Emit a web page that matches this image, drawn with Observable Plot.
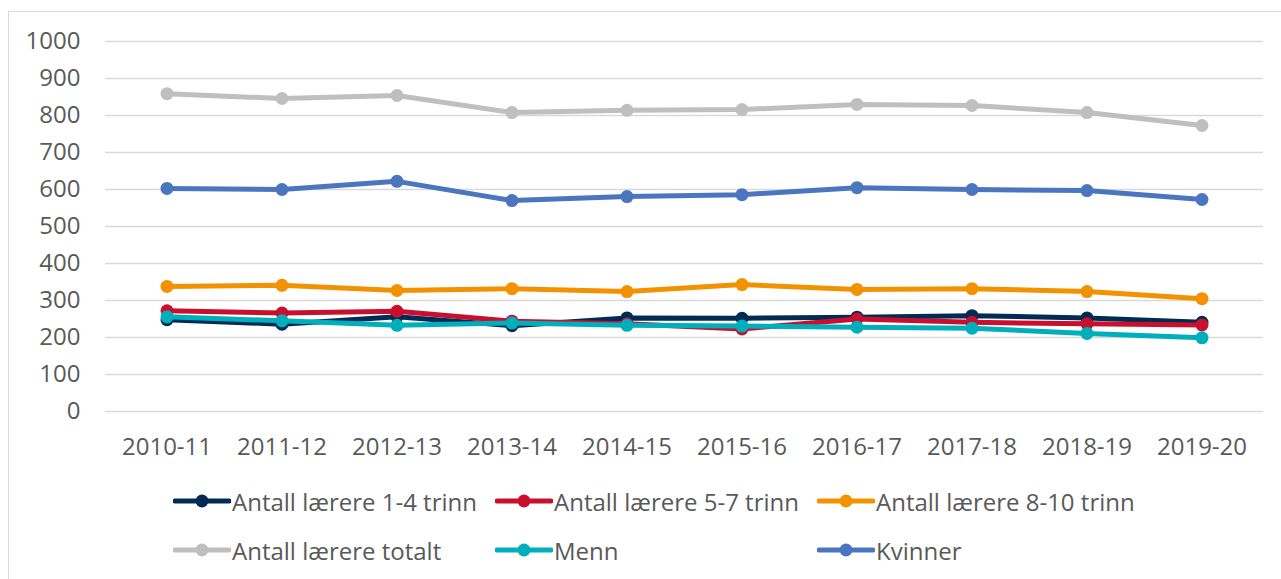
<!DOCTYPE html>
<html><head><meta charset="utf-8">
<script src="https://cdn.jsdelivr.net/npm/d3@7"></script>
<script src="https://cdn.jsdelivr.net/npm/@observablehq/plot@0.6"></script>
<style>
body{margin:0;background:#fff;font-family:"Open Sans",sans-serif;}
#wrap{position:relative;width:1281px;height:579px;overflow:hidden;}
#frame{position:absolute;left:8px;top:11px;width:1300px;height:620px;border:1.5px solid #d9d9d9;box-sizing:border-box;}
#chart{position:absolute;left:0;top:0;}
.leg{position:absolute;display:flex;align-items:center;font-size:24px;color:#595959;white-space:nowrap;height:30px;}
.leg svg{display:block;margin-right:1px;}
</style>
</head><body>
<div id="wrap"><div id="frame"></div><div id="chart"></div><div id="legend"></div></div>
<script>
const years = ["2010-11","2011-12","2012-13","2013-14","2014-15","2015-16","2016-17","2017-18","2018-19","2019-20"];
const seriesNames = ["Antall lærere 1-4 trinn","Antall lærere 5-7 trinn","Antall lærere 8-10 trinn","Antall lærere totalt","Menn","Kvinner"];
const seriesColors = ["#002B55","#C8102E","#F39200","#BFBFBF","#00AFBB","#4A76C0"];
const trinn14 = [248, 236, 256, 232, 253, 252, 255, 259, 253, 241];
const trinn57 = [272, 266, 271, 244, 237, 223, 250, 241, 237, 234];
const trinn810 = [338, 341, 327, 332, 324, 343, 330, 332, 324, 305];
const totalt = [859, 846, 854, 808, 814, 816, 830, 827, 808, 773];
const menn = [256, 245, 233, 239, 233, 231, 228, 225, 211, 199];
const kvinner = [603, 600, 622, 570, 581, 586, 605, 600, 597, 573];
const yTicks = [0,100,200,300,400,500,600,700,800,900,1000];

const allValues = [trinn14, trinn57, trinn810, totalt, menn, kvinner];
const data = [];
seriesNames.forEach((s, i) => years.forEach((y, j) => data.push({series: s, year: y, value: allValues[i][j]})));

const marks = [
  Plot.gridY(yTicks, {stroke:"#d9d9d9", strokeOpacity:1, strokeWidth:1.5}),
  Plot.axisY(yTicks, {tickSize:0, tickPadding:25, label:null, fill:"#595959", tickFormat:d => String(d)}),
  Plot.axisX({tickSize:0, tickPadding:26, label:null, fill:"#595959"})
];
seriesNames.forEach(s => {
  const d = data.filter(r => r.series === s);
  marks.push(Plot.line(d, {x:"year", y:"value", stroke:"series", strokeWidth:5, strokeLinejoin:"round"}));
  marks.push(Plot.dot(d, {x:"year", y:"value", fill:"series", r:6.5}));
});

const chart = Plot.plot({
  width:1281, height:470,
  marginTop:41, marginBottom:59, marginLeft:105, marginRight:18,
  x:{type:"band", domain:years, padding:0, label:null},
  y:{domain:[0,1000], label:null},
  color:{domain:seriesNames, range:seriesColors},
  style:{fontFamily:"'Open Sans', sans-serif", fontSize:"24px", color:"#595959", background:"transparent"},
  marks
});
document.getElementById("chart").appendChild(chart);

const legend = document.getElementById("legend");
const legPos = [[173,486],[495,486],[817,486],[173,535],[495,535],[817,535]];
seriesNames.forEach((s, i) => {
  const el = document.createElement("div");
  el.className = "leg";
  el.style.left = legPos[i][0] + "px";
  el.style.top = legPos[i][1] + "px";
  const c = seriesColors[i];
  el.innerHTML = `<svg width="58" height="20"><line x1="2" y1="10" x2="56" y2="10" stroke="${c}" stroke-width="5" stroke-linecap="round"/><circle cx="29" cy="10" r="6.5" fill="${c}"/></svg><span>${s}</span>`;
  legend.appendChild(el);
});
</script>
</body></html>
